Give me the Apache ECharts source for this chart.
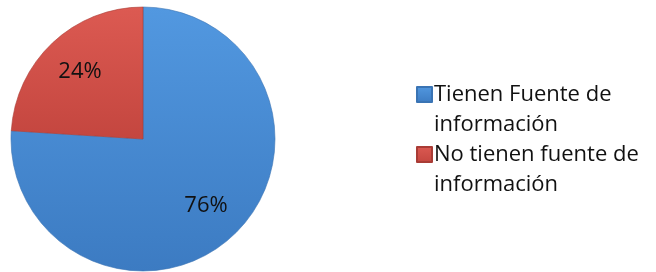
<!DOCTYPE html>
<html>
<head>
<meta charset="utf-8">
<script src="https://cdn.jsdelivr.net/npm/echarts@6/dist/echarts.min.js"></script>
<style>
html,body{margin:0;padding:0;background:#fff;}
#c{width:656px;height:272px;}
</style>
</head>
<body>
<div id="c"></div>
<script>
const categories = ['Tienen Fuente de información', 'No tienen fuente de información'];
const legendLines = [['Tienen Fuente de', 'información'], ['No tienen fuente de', 'información']];
const values = [76, 24];
const colors = [
  ['#5298e0', '#3c7bc2', '#3a74b4'],
  ['#dc5a52', '#c4463f', '#a93c36']
];

const chart = echarts.init(document.getElementById('c'), null, {renderer: 'canvas'});
const FONT = '"Open Sans", sans-serif';

function grad(c) {
  return new echarts.graphic.LinearGradient(0, 0, 0, 1, [
    {offset: 0, color: c[0]}, {offset: 1, color: c[1]}
  ]);
}

const pieData = categories.map((n, i) => ({
  name: n, value: values[i],
  itemStyle: {color: grad(colors[i]), borderColor: colors[i][2], borderWidth: 0.6}
}));

chart.setOption({
  animation: false,
  legend: {
    orient: 'vertical',
    left: 411,
    top: 48,
    itemWidth: 15,
    itemHeight: 15,
    itemGap: -23,
    icon: 'rect',
    selectedMode: false,
    formatter: function (name) {
      const idx = categories.indexOf(name);
      return '{e| }\n' + legendLines[idx].map(l => '{a|' + l + '}').join('\n');
    },
    textStyle: {
      fontFamily: FONT,
      fontSize: 22,
      color: '#111',
      padding: [0, 0, 0, -3],
      rich: {
        e: {fontSize: 22, lineHeight: 30.5, fontFamily: FONT},
        a: {fontSize: 22, lineHeight: 30.5, fontFamily: FONT, color: '#111'}
      }
    },
    data: categories
  },
  series: [
    {
      type: 'pie',
      center: [143, 139],
      radius: [0, 132],
      startAngle: 90,
      clockwise: true,
      silent: true,
      label: {show: false},
      labelLine: {show: false},
      data: pieData
    },
    {
      type: 'pie',
      center: [143, 139],
      radius: [46, 132],
      startAngle: 90,
      clockwise: true,
      silent: true,
      legendHoverLink: false,
      itemStyle: {color: 'rgba(0,0,0,0)', borderWidth: 0},
      label: {
        show: true,
        position: 'inside',
        formatter: '{c}%',
        fontFamily: FONT,
        fontSize: 22,
        color: '#111'
      },
      labelLine: {show: false},
      data: categories.map((n, i) => ({name: n + ' ', value: values[i]}))
    }
  ]
});
</script>
</body>
</html>
